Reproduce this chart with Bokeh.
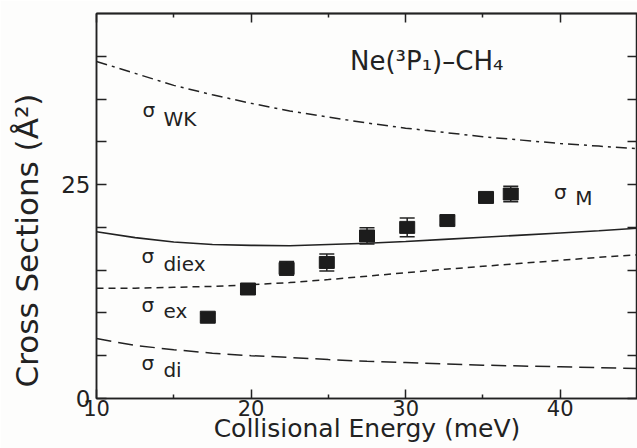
from bokeh.plotting import figure
from bokeh.models import (ColumnDataSource, Range1d, FixedTicker, LinearAxis,
                          Whisker, TeeHead, Label)
from bokeh.embed import file_html
from bokeh.resources import INLINE

# ---- data ----
curve_x = [10, 12.5, 15, 17.5, 20, 22.5, 25, 27.5, 30, 32.5, 35, 37.5, 40, 42.5, 45]
sigma_wk = [39.4, 38.0, 36.6, 35.5, 34.5, 33.6, 32.9, 32.2, 31.6, 31.1, 30.6, 30.2, 29.8, 29.5, 29.2]
sigma_m = [19.5, 18.8, 18.3, 18.0, 17.9, 17.85, 18.0, 18.15, 18.35, 18.6, 18.85, 19.1, 19.35, 19.6, 19.9]
sigma_ex = [12.9, 12.9, 13.0, 13.1, 13.3, 13.55, 13.9, 14.3, 14.7, 15.1, 15.45, 15.8, 16.15, 16.5, 16.8]
sigma_di = [7.0, 6.2, 5.7, 5.3, 5.0, 4.8, 4.55, 4.35, 4.2, 4.05, 3.9, 3.8, 3.7, 3.6, 3.5]

exp_energy = [17.2, 19.8, 22.3, 24.9, 27.5, 30.1, 32.7, 35.2, 36.8]
exp_sigma = [9.5, 12.8, 15.2, 15.9, 19.0, 20.0, 20.8, 23.5, 23.9]
exp_err = [0.4, 0.4, 0.8, 1.0, 0.95, 1.1, 0.5, 0.5, 0.9]

x_major = [10, 20, 30, 40]
x_minor = [15, 25, 35]
y_major = [0, 25]
y_minor = [5, 10, 15, 20, 30, 35, 40]

FONT = "DejaVu Sans"
INK = "#222222"

p = figure(width=637, height=448, output_backend="svg", toolbar_location=None,
           x_range=Range1d(10, 45), y_range=Range1d(0, 45),
           min_border_left=96, min_border_right=0, min_border_top=13,
           min_border_bottom=50)
p.background_fill_color = "#fdfdfc"
p.border_fill_color = "#fdfdfc"
p.outline_line_color = INK
p.outline_line_width = 1.5
p.xgrid.visible = False
p.ygrid.visible = False

def base_style(ax):
    ax.axis_line_color = INK
    ax.axis_line_width = 1.5
    ax.major_tick_line_width = 1.5
    ax.minor_tick_line_width = 1.5
    ax.major_tick_line_color = INK
    ax.minor_tick_line_color = INK
    ax.major_tick_out = 0
    ax.minor_tick_out = 0

# bottom axis
xa = p.xaxis[0]
base_style(xa)
xa.ticker = FixedTicker(ticks=x_major, minor_ticks=x_minor)
xa.major_tick_in = 9
xa.minor_tick_in = 4
xa.major_label_text_font = FONT
xa.major_label_text_font_size = "21px"
xa.major_label_text_color = INK
xa.major_label_standoff = 1
xa.axis_label = "Collisional Energy (meV)"
xa.axis_label_text_font = FONT
xa.axis_label_text_font_size = "25px"
xa.axis_label_text_font_style = "normal"
xa.axis_label_text_color = INK
xa.axis_label_standoff = -5

# left axis
ya = p.yaxis[0]
base_style(ya)
ya.ticker = FixedTicker(ticks=y_major, minor_ticks=y_minor)
ya.major_tick_in = 10
ya.minor_tick_in = 10
ya.major_label_text_font = FONT
ya.major_label_text_font_size = "23px"
ya.major_label_text_color = INK
ya.major_label_standoff = 6
ya.axis_label = "Cross Sections (Å²)" + "\u00a0" * 7
ya.axis_label_text_font = FONT
ya.axis_label_text_font_size = "31px"
ya.axis_label_text_font_style = "normal"
ya.axis_label_text_color = INK
ya.axis_label_standoff = 13

# top axes (ticks only)
for ticks, length in ((x_major, 9), (x_minor, 4)):
    ax = LinearAxis(ticker=FixedTicker(ticks=[], minor_ticks=ticks))
    base_style(ax)
    ax.minor_tick_in = length
    p.add_layout(ax, "above")

# right axis (ticks only)
ra = LinearAxis(ticker=FixedTicker(ticks=[], minor_ticks=y_major + y_minor))
base_style(ra)
ra.minor_tick_in = 10
p.add_layout(ra, "right")

# ---- curves ----
p.line(curve_x, sigma_wk, line_color=INK, line_width=1.5, line_dash="11 5 3 5")
p.line(curve_x, sigma_m, line_color=INK, line_width=1.6)
p.line(curve_x, sigma_ex, line_color=INK, line_width=1.5, line_dash="7 5")
p.line(curve_x, sigma_di, line_color=INK, line_width=1.5, line_dash="15 7")

# ---- experimental points ----
src = ColumnDataSource(dict(
    x=exp_energy, y=exp_sigma,
    upper=[v + e for v, e in zip(exp_sigma, exp_err)],
    lower=[v - e for v, e in zip(exp_sigma, exp_err)],
))
wh = Whisker(source=src, base="x", upper="upper", lower="lower", dimension="height",
             line_color=INK, line_width=1.5,
             upper_head=TeeHead(size=15, line_color=INK, line_width=1.5),
             lower_head=TeeHead(size=15, line_color=INK, line_width=1.5))
p.add_layout(wh)
p.rect("x", "y", width=15, height=12, width_units="screen", height_units="screen",
       source=src, fill_color="#1c1c1c", line_color="#1c1c1c")

# ---- annotations ----
def add_text(x, y, text, size):
    p.add_layout(Label(x=x, y=y, text=text, text_font=FONT, text_font_size=size,
                       text_color=INK, text_align="left", text_baseline="alphabetic"))

sig_labels = [("WK", 12.98, 33.7, 14.33, 32.7),
              ("diex", 12.91, 16.6, 14.33, 15.7),
              ("ex", 12.91, 10.9, 14.33, 10.2),
              ("di", 12.91, 4.1, 14.33, 3.3),
              ("M", 39.6, 24.1, 40.98, 23.4)]
for sub, sx, sy, tx, ty in sig_labels:
    add_text(sx, sy, "σ", "20px")
    add_text(tx, ty, sub, "20px")

add_text(26.4, 39.4, "Ne(³P₁)–CH₄", "26px")

open("out.html", "w").write(file_html(p, INLINE))
